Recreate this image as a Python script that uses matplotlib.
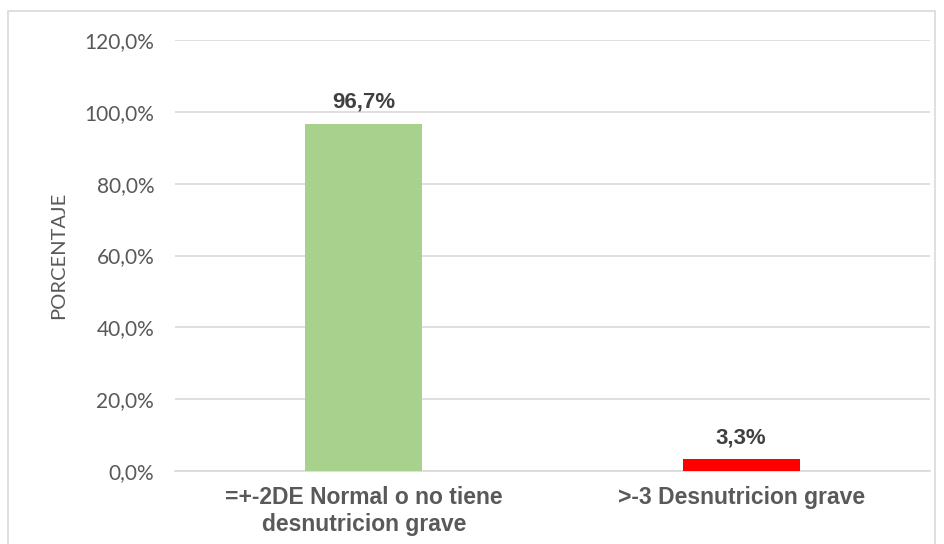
import matplotlib
matplotlib.use("Agg")
import matplotlib.pyplot as plt
from matplotlib.patches import Rectangle

categories = ["=+-2DE Normal o no tiene\ndesnutricion grave", ">-3 Desnutricion grave"]
values = [96.7, 3.3]
value_labels = ["96,7%", "3,3%"]
colors = ["#A9D18E", "#FF0000"]
yticks = [0, 20, 40, 60, 80, 100, 120]
ytick_labels = ["0,0%", "20,0%", "40,0%", "60,0%", "80,0%", "100,0%", "120,0%"]

fig = plt.figure(figsize=(9.45, 5.44), dpi=100)
fig.patch.set_facecolor("white")
fig.patches.append(Rectangle((8/945, -0.01), (935-8)/945, 1 - 11/544 + 0.01,
                             transform=fig.transFigure, fill=False,
                             edgecolor="#D9D9D9", linewidth=1.2))

ax = fig.add_axes([175/945, 73/544, 755/945, 431/544])
x = range(len(categories))
ax.bar(x, values, width=0.31, color=colors, zorder=3)
ax.set_xlim(-0.5, 1.5)
ax.set_ylim(0, 120)
ax.set_yticks(yticks)
ax.set_yticklabels(ytick_labels, fontsize=15, color="#595959", family="Lato")
ax.set_xticks(list(x))
ax.set_xticklabels(categories, fontsize=16.5, fontweight="bold", color="#595959",
                   family="Liberation Sans", linespacing=1.2)
ax.tick_params(axis="both", length=0)
ax.tick_params(axis="y", pad=15)
ax.tick_params(axis="x", pad=11)
ax.grid(axis="y", color="#D9D9D9", linewidth=1.2, zorder=0)
for s in ["top", "right", "left"]:
    ax.spines[s].set_visible(False)
ax.spines["bottom"].set_color("#D9D9D9")
ax.spines["bottom"].set_linewidth(1.2)

for xi, v, lab in zip(x, values, value_labels):
    ax.annotate(lab, (xi, v), xytext=(0, 8), textcoords="offset points",
                ha="center", va="bottom", fontsize=16, fontweight="bold",
                color="#404040", family="Liberation Sans")

ax.set_ylabel("PORCENTAJE", fontsize=14.5, color="#595959", family="Lato", labelpad=12)

fig.savefig("out.png", dpi=100)
